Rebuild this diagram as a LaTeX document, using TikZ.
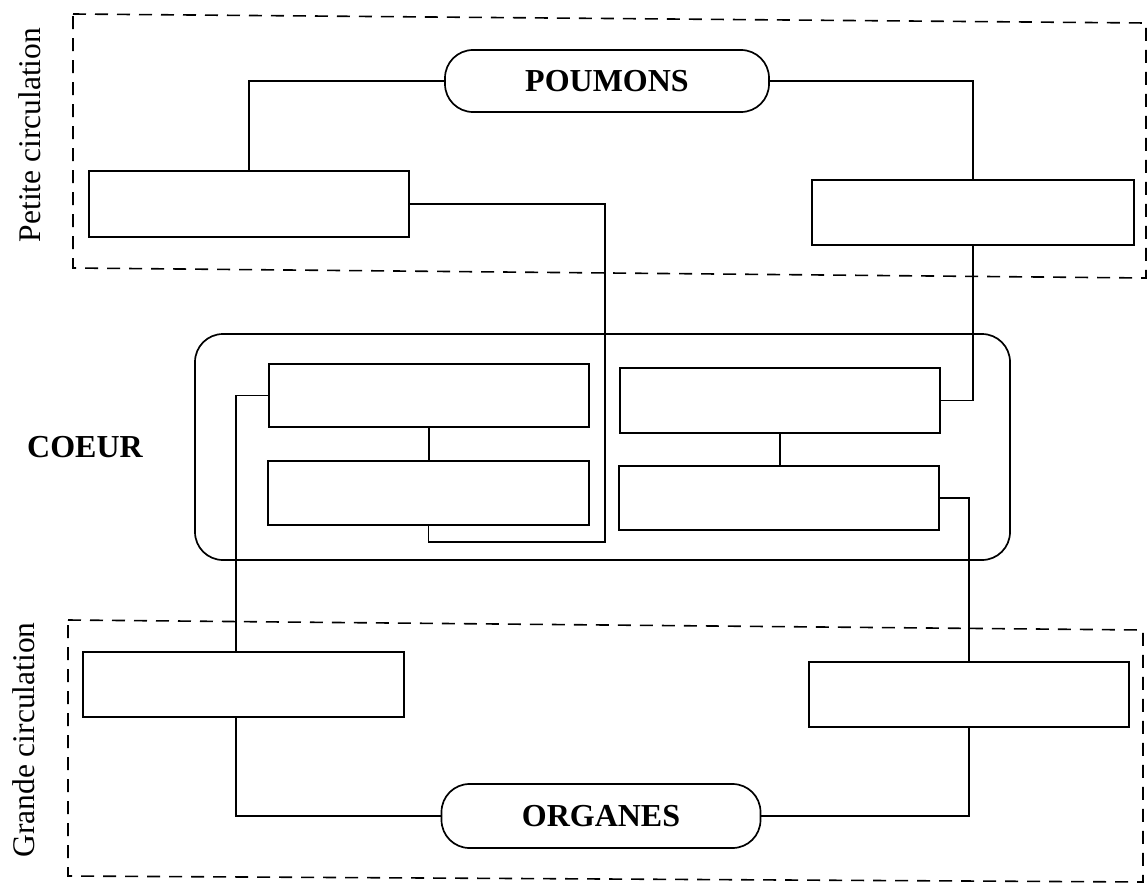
\documentclass[tikz,border=0pt]{standalone}
\usepackage{fontspec}
\setmainfont{Liberation Serif}
\begin{document}
\begin{tikzpicture}[x=1pt,y=-1pt,
  line width=1.7pt,
  blank/.style={draw,rectangle,minimum width=320pt,minimum height=64pt,inner sep=0pt},
  organ/.style={draw,rectangle,rounded corners=28pt,minimum width=324pt,minimum height=62pt,inner sep=0pt,font=\fontsize{32}{38}\selectfont\bfseries},
  zone/.style={dash pattern=on 13pt off 9pt,line width=1.6pt},
  lab/.style={font=\fontsize{31.5}{38}\selectfont,inner sep=0pt},
  conn/.style={line width=1.7pt}]
\useasboundingbox (0,0) rectangle (1148,883);
% dashed zones
\draw[zone] (73,14) -- (1146,23) -- (1146,278) -- (73,268) -- cycle;
\draw[zone] (68,620) -- (1143,630) -- (1143,882) -- (68,876) -- cycle;
% zone labels
\node[lab,rotate=90] (petite) at (30,135) {Petite circulation};
\node[lab,rotate=90] (grande) at (24,740) {Grande circulation};
% heart
\node[draw,rectangle,rounded corners=28pt,minimum width=815pt,minimum height=226pt,inner sep=0pt] (heart) at (602.5,447) {};
\node[font=\fontsize{32}{38}\selectfont\bfseries,inner sep=0pt] (coeur) at (85,447) {COEUR};
% organs
\node[organ] (P) at (607,81) {POUMONS};
\node[organ,minimum width=319pt,minimum height=64pt] (O) at (601,816) {ORGANES};
% blank boxes
\node[blank,minimum width=320pt,minimum height=66pt] (L1) at (249,204) {};
\node[blank,minimum width=322pt,minimum height=65pt] (R1) at (973,212.5) {};
\node[blank,minimum height=63pt] (LU) at (429,395.5) {};
\node[blank,minimum width=321pt] (LL) at (428.5,493) {};
\node[blank,minimum height=65pt] (RU) at (780,400.5) {};
\node[blank] (RL) at (779,498) {};
\node[blank,minimum width=321pt,minimum height=65pt] (BL) at (243.5,684.5) {};
\node[blank,minimum height=65pt] (BR) at (969,694.5) {};
% helper coordinates
\coordinate (c1) at (605,542);
\coordinate (lx) at (236,0);
% connectors
\draw[conn] (L1.north) |- (P.west);
\draw[conn] (P.east) -| (R1.north);
\draw[conn] (L1.east) -| (c1) -| (LL.south);
\draw[conn] (R1.south) |- (RU.east);
\draw[conn] (LU.south) -- (LU.south |- LL.north);
\draw[conn] (RU.south) -- (RU.south |- RL.north);
\draw[conn] (LU.west) -| (lx |- BL.north);
\draw[conn] (RL.east) -| (BR.north);
\draw[conn] (lx |- BL.south) |- (O.west);
\draw[conn] (O.east) -| (BR.south);
\end{tikzpicture}
\end{document}
